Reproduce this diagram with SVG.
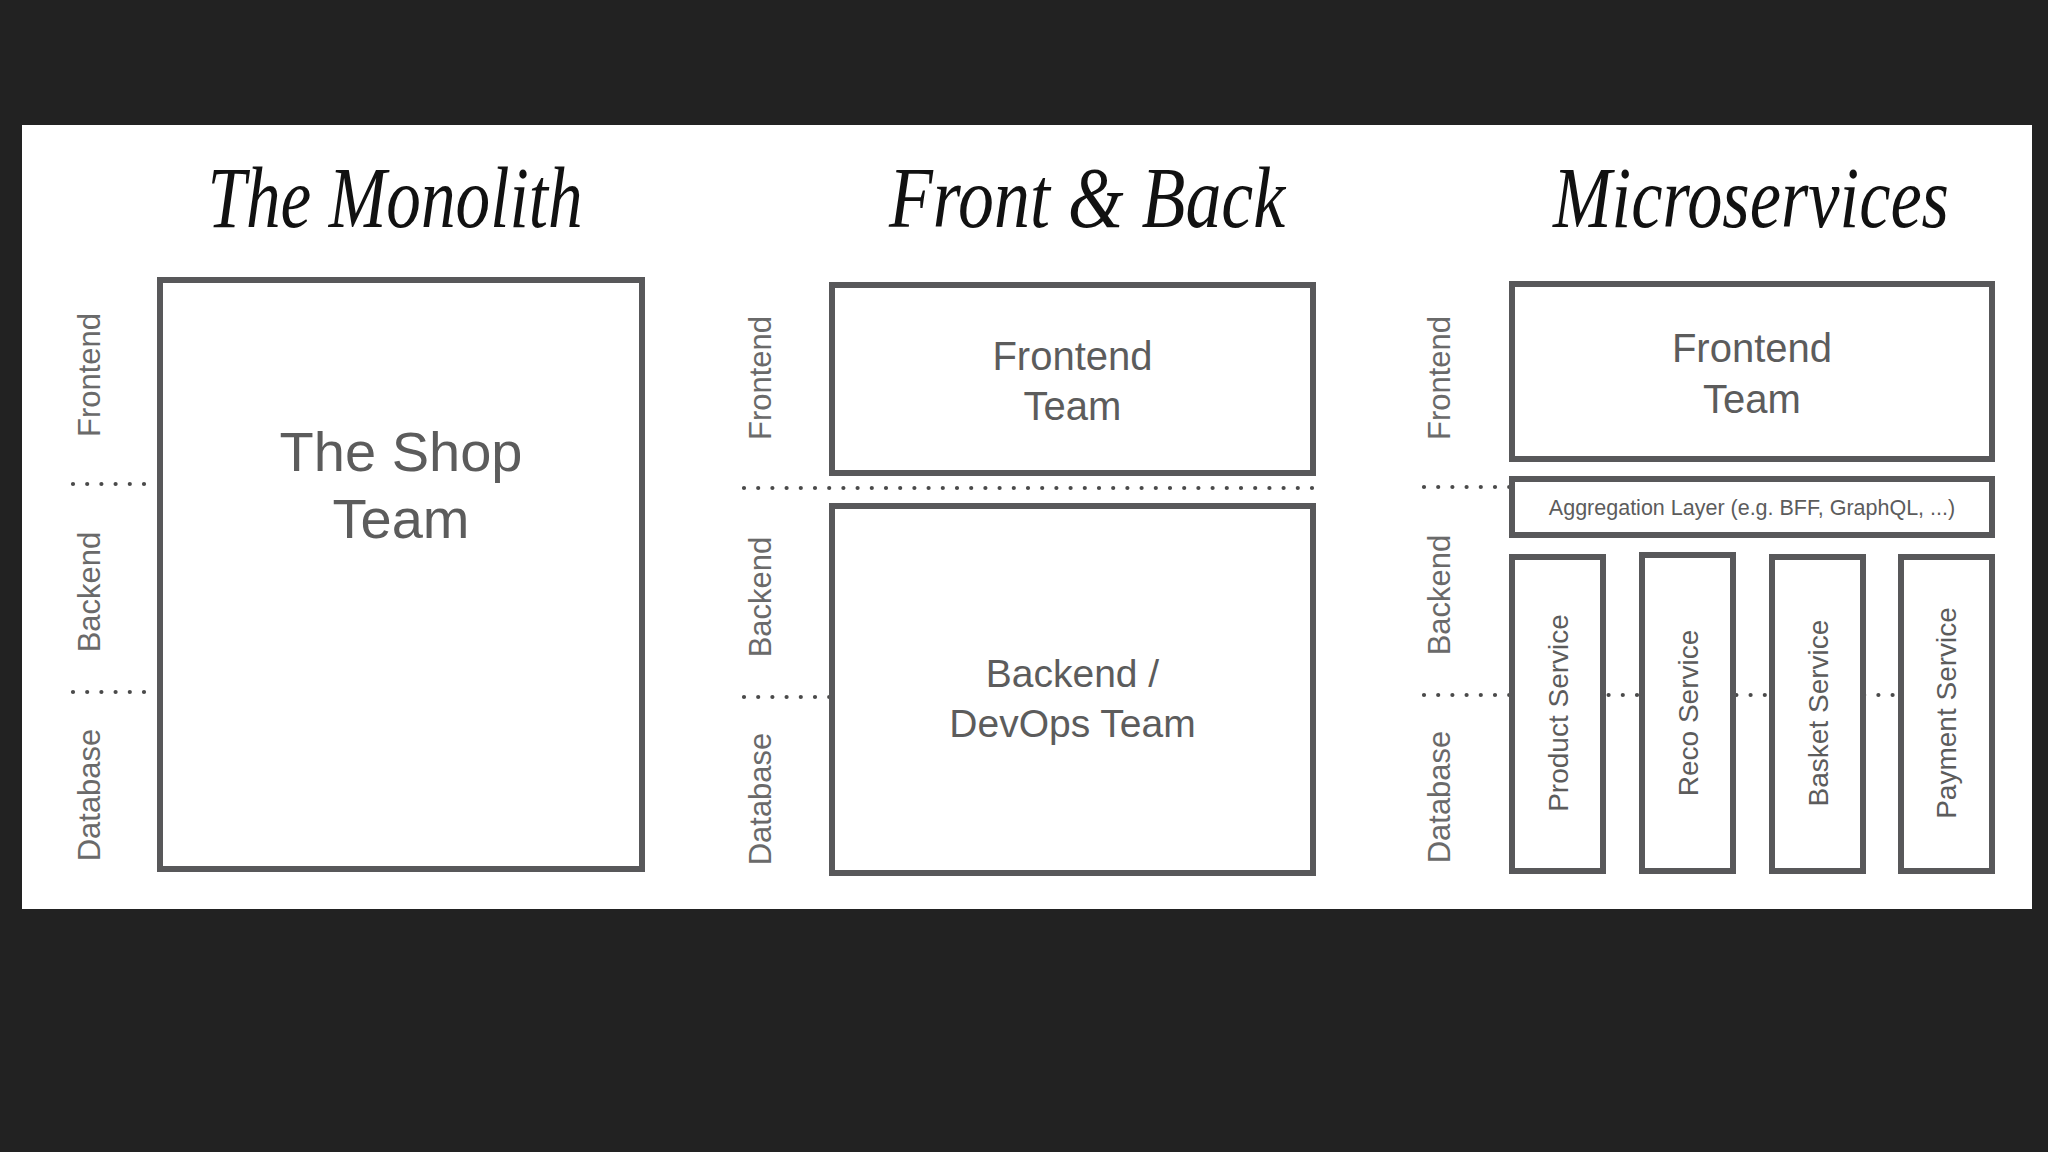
<svg xmlns="http://www.w3.org/2000/svg" width="2048" height="1152" viewBox="0 0 2048 1152">
<style>
.box{fill:#ffffff;stroke:#58585a;stroke-width:6}
.sep{stroke:#4a4a4a;stroke-width:4.2;stroke-linecap:round;stroke-dasharray:0 14.2;fill:none}
.title{font-family:"Liberation Serif",serif;font-style:italic;font-size:86px;fill:#111111;text-anchor:middle}
.lane{font-family:"Liberation Sans",Arial,sans-serif;font-size:31px;fill:#6a6a6a;text-anchor:middle}
.team{font-family:"Liberation Sans",Arial,sans-serif;fill:#5c5c5c;text-anchor:middle}
.svc{font-family:"Liberation Sans",Arial,sans-serif;font-size:28px;fill:#5c5c5c;text-anchor:middle}
</style>
<rect x="0" y="0" width="2048" height="1152" fill="#222222"/>
<rect x="22" y="125" width="2010" height="784" fill="#ffffff"/>

<g id="titles">
<text class="title" x="395" y="227" textLength="375" lengthAdjust="spacingAndGlyphs">The Monolith</text>
<text class="title" x="1087" y="227" textLength="396" lengthAdjust="spacingAndGlyphs">Front &amp; Back</text>
<text class="title" x="1751" y="227" textLength="396" lengthAdjust="spacingAndGlyphs">Microservices</text>
</g>

<g id="lane-labels">
<text class="lane" transform="translate(100,375) rotate(-90)">Frontend</text>
<text class="lane" transform="translate(100,592) rotate(-90)">Backend</text>
<text class="lane" transform="translate(100,795) rotate(-90)">Database</text>
<text class="lane" transform="translate(771,378) rotate(-90)">Frontend</text>
<text class="lane" transform="translate(771,597) rotate(-90)">Backend</text>
<text class="lane" transform="translate(771,799) rotate(-90)">Database</text>
<text class="lane" transform="translate(1450,378) rotate(-90)">Frontend</text>
<text class="lane" transform="translate(1450,595) rotate(-90)">Backend</text>
<text class="lane" transform="translate(1450,797) rotate(-90)">Database</text>
</g>

<g id="connectors">
<line class="sep" x1="73" y1="484" x2="158" y2="484"/>
<line class="sep" x1="73" y1="692" x2="158" y2="692"/>
<line class="sep" x1="744" y1="488" x2="1314" y2="488"/>
<line class="sep" x1="744" y1="697" x2="830" y2="697"/>
<line class="sep" x1="1424" y1="487" x2="1510" y2="487"/>
<line class="sep" x1="1424" y1="695" x2="1901" y2="695"/>
</g>

<g id="shop-team">
<rect class="box" x="160" y="280" width="482" height="589"/>
<text class="team" font-size="56" x="401" y="471">The Shop</text>
<text class="team" font-size="56" x="401" y="538">Team</text>
</g>

<g id="fb-frontend-team">
<rect class="box" x="832" y="285" width="481" height="188"/>
<text class="team" font-size="40" x="1072.5" y="370">Frontend</text>
<text class="team" font-size="40" x="1072.5" y="420">Team</text>
</g>

<g id="fb-backend-team">
<rect class="box" x="832" y="506" width="481" height="367"/>
<text class="team" font-size="39" x="1072.5" y="687">Backend /</text>
<text class="team" font-size="39" x="1072.5" y="737">DevOps Team</text>
</g>

<g id="ms-frontend-team">
<rect class="box" x="1512" y="284" width="480" height="175"/>
<text class="team" font-size="40" x="1752" y="362">Frontend</text>
<text class="team" font-size="40" x="1752" y="413">Team</text>
</g>

<g id="aggregation-layer">
<rect class="box" x="1512" y="479" width="480" height="56"/>
<text class="team" font-size="21.5" x="1752" y="515">Aggregation Layer (e.g. BFF, GraphQL, ...)</text>
</g>

<g id="product-service">
<rect class="box" x="1512" y="557" width="91" height="314"/>
<text class="svc" transform="translate(1568,713) rotate(-90)">Product Service</text>
</g>

<g id="reco-service">
<rect class="box" x="1642" y="555" width="91" height="316"/>
<text class="svc" transform="translate(1698,713) rotate(-90)">Reco Service</text>
</g>

<g id="basket-service">
<rect class="box" x="1772" y="557" width="91" height="314"/>
<text class="svc" transform="translate(1828,713) rotate(-90)">Basket Service</text>
</g>

<g id="payment-service">
<rect class="box" x="1901" y="557" width="91" height="314"/>
<text class="svc" transform="translate(1956,713) rotate(-90)">Payment Service</text>
</g>
</svg>
